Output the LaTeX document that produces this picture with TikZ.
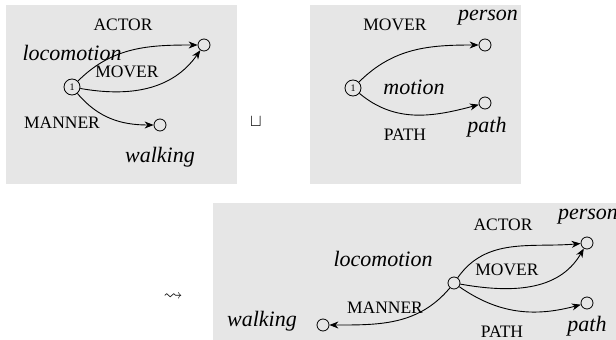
\documentclass[tikz,border=0pt]{standalone}
\usepackage{amssymb}
\usepackage{fontspec}
\setmainfont{Liberation Serif}
\usetikzlibrary{arrows.meta}
\definecolor{boxgray}{HTML}{E6E6E6}
\tikzset{
  panel/.style={fill=boxgray, draw=none},
  pt/.style={circle, draw, line width=0.8pt, minimum size=12pt, inner sep=0pt},
  numpt/.style={circle, draw, line width=0.8pt, minimum size=16pt, inner sep=0pt, font=\fontsize{10}{11}\selectfont},
  rel/.style={font=\fontsize{17.5}{20}\selectfont},
  concept/.style={font=\fontsize{22}{25}\selectfont\itshape},
  arc/.style={line width=0.9pt, -{Stealth[length=9pt,width=7pt]}},
  opsym/.style={font=\fontsize{19}{21}\selectfont}
}
\begin{document}
\begin{tikzpicture}[x=1pt,y=-1pt]
\useasboundingbox (0,0) rectangle (616,340);
% panels
\fill[panel] (6,5) rectangle (237,184);
\fill[panel] (310,5) rectangle (521,184);
\fill[panel] (213,203) rectangle (616,340);

% panel 1
\node[numpt] (a1) at (72,87) {1};
\node[pt] (a2) at (204,45) {};
\node[pt] (a3) at (160,125) {};
\node[concept] (al) at (72,53) {locomotion};
\node[rel] (aac) at (123,25) {ACTOR};
\node[rel] (amo) at (127,72) {MOVER};
\node[rel] (ama) at (62,123) {MANNER};
\node[concept] (awa) at (160,157) {walking};
\draw[arc] (a1) to[out=45,in=180] (a2);
\draw[arc] (a1) to[out=-10,in=235] (a2);
\draw[arc] (a1) to[out=-50,in=180] (a3);

% union symbol
\node[opsym] (un) at (256,122) {$\sqcup$};

% panel 2
\node[numpt] (b1) at (353,88) {1};
\node[pt] (b2) at (485,45) {};
\node[pt] (b3) at (485,103) {};
\node[rel] (bmo) at (395,25) {MOVER};
\node[concept] (bpe) at (488,18) {person};
\node[concept] (bmot) at (414,87) {motion};
\node[rel] (bpa) at (405,135) {PATH};
\node[concept] (bpath) at (487,127) {path};
\draw[arc] (b1) to[out=45,in=180] (b2);
\draw[arc] (b1) to[out=-40,in=195] (b3);

% squiggle arrow
\node[opsym] (sq) at (173,297) {$\rightsquigarrow$};

% panel 3
\node[pt] (c1) at (454,283) {};
\node[pt] (c2) at (587,243) {};
\node[pt] (c3) at (587,303) {};
\node[pt] (c4) at (323,325) {};
\node[rel] (cac) at (503,225) {ACTOR};
\node[concept] (cpe) at (588,217) {person};
\node[concept] (clo) at (383,259) {locomotion};
\node[rel] (cmo) at (507,270) {MOVER};
\node[rel] (cma) at (385,308) {MANNER};
\node[concept] (cwa) at (262,321) {walking};
\node[rel] (cpa) at (502,332) {PATH};
\node[concept] (cpath) at (587,326) {path};
\draw[arc] (c1) to[out=55,in=185] (c2);
\draw[arc] (c1) to[out=-10,in=240] (c2);
\draw[arc] (c1) to[out=-35,in=195] (c3);
\draw[arc] (c1) to[out=230,in=0] (c4);
\end{tikzpicture}
\end{document}
